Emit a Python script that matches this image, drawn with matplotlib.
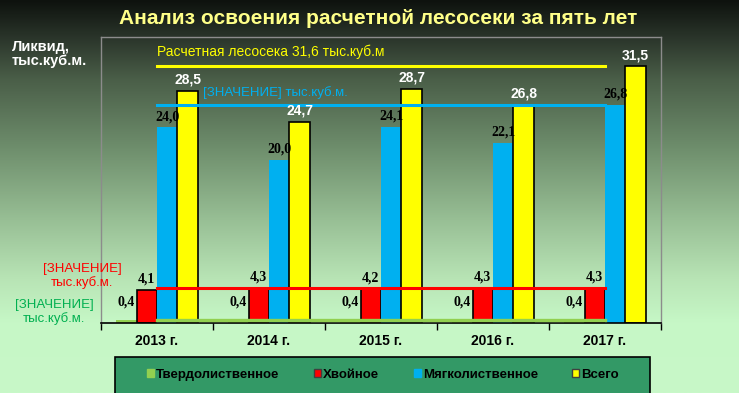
import matplotlib
matplotlib.use('Agg')
import matplotlib.pyplot as plt
import numpy as np
from matplotlib.patches import Patch, Rectangle
from matplotlib.colors import LinearSegmentedColormap

years = ['2013 г.', '2014 г.', '2015 г.', '2016 г.', '2017 г.']
hardwood = [0.4, 0.4, 0.4, 0.4, 0.4]
conifer = [4.1, 4.3, 4.2, 4.3, 4.3]
softwood = [24.0, 20.0, 24.1, 22.1, 26.8]
total = [28.5, 24.7, 28.7, 26.8, 31.5]

# horizontal reference lines
line_total = [31.6, 31.6, 31.6, 31.6, 31.6]
line_soft = [26.8, 26.8, 26.8, 26.8, 26.8]
line_conifer = [4.3, 4.3, 4.3, 4.3, 4.3]
line_hard = [0.4, 0.4, 0.4, 0.4, 0.4]

names = ['Твердолиственное', 'Хвойное', 'Мягколиственное', 'Всего']
colors = ['#92d050', '#ff0000', '#00b0f0', '#ffff00']

W, H = 739, 393
fig = plt.figure(figsize=(W / 100, H / 100), dpi=100)


def px(x, y):
    # pixel coords (from top-left) -> figure fraction
    return x / W, 1 - y / H


# gradient background
bg = fig.add_axes([0, 0, 1, 1], zorder=-10)
cmap = LinearSegmentedColormap.from_list('bg', [
    (0.0, '#0e120e'), (0.1, '#2c372c'), (0.2, '#4a5e48'), (0.38, '#6f8f6d'),
    (0.56, '#98bf95'), (0.71, '#b8e4b5'), (0.82, '#c6f7c6'), (1.0, '#c8f8c8')])
bg.imshow(np.linspace(0, 1, 256).reshape(-1, 1), aspect='auto', cmap=cmap,
          extent=[0, 1, 0, 1])
bg.axis('off')

ax = fig.add_axes([101 / W, 1 - 323 / H, 560 / W, 286 / H])
ax.patch.set_alpha(0)

x = np.arange(len(years))
w = 0.182
series = [hardwood, conifer, softwood, total]
edges = ['none', 'black', 'none', 'black']
for i, (vals, c) in enumerate(zip(series, colors)):
    pos = x + (i - 1.5) * w
    ec = edges[i]
    bars = ax.bar(pos, vals, w, color=c, edgecolor=ec, linewidth=1.2 if ec != 'none' else 0, zorder=2)
    lab_col = 'white' if i == 3 else 'black'
    fam = ['Liberation Sans'] if i == 3 else ['Liberation Serif']
    for p, v in zip(pos, vals):
        ax.annotate(f'{v:.1f}'.replace('.', ','), (p, v), xytext=(0, 3 if i > 0 else 8),
                    textcoords='offset points', ha='center', va='bottom',
                    fontsize=10, fontweight='bold', color=lab_col, family=fam, zorder=5)

ax.plot(x, line_total, color='#ffff00', lw=2.2, zorder=4)
ax.plot(x, line_soft, color='#00b0f0', lw=2.2, zorder=4)
ax.plot(x, line_conifer, color='#ff0000', lw=2.2, zorder=4)
ax.plot(x, line_hard, color='#92d050', lw=2.4, zorder=4)

ax.set_xlim(-0.5, 4.5)
ax.set_ylim(0, 35.1)
ax.set_yticks([])
ax.set_xticks(np.arange(-0.5, 5, 1))
ax.set_xticklabels([])
ax.tick_params(axis='x', which='major', direction='out', length=5, color='black', width=1)
ax.set_xticks(x, minor=True)
ax.set_xticklabels(years, minor=True, fontsize=10, fontweight='bold',
                   family=['Liberation Sans Narrow', 'Liberation Sans'])
ax.tick_params(axis='x', which='minor', length=0, pad=8)
for s in ['left', 'top', 'right']:
    ax.spines[s].set_color('#8c8c8c')
    ax.spines[s].set_linewidth(1)
ax.spines['bottom'].set_color('black')
ax.spines['bottom'].set_linewidth(1.2)

# title and axis caption
fig.text(*px(378, 18), 'Анализ освоения расчетной лесосеки за пять лет', ha='center', va='center',
         fontsize=15, fontweight='bold', color='#ffff88', family=['Liberation Sans'])
fig.text(*px(12, 54), 'Ликвид,\nтыс.куб.м.', ha='left', va='center', fontsize=10.5,
         fontweight='bold', color='white', family=['Liberation Sans'], linespacing=1.05)

# line captions
fig.text(*px(157, 52), 'Расчетная лесосека 31,6 тыс.куб.м', ha='left', va='center',
         fontsize=10, color='#ffff00', family=['Liberation Sans'])
fig.text(*px(203, 93), '[ЗНАЧЕНИЕ] тыс.куб.м.', ha='left', va='center',
         fontsize=9.5, color='#00b0f0', family=['Liberation Sans'])
fig.text(*px(82, 276), '[ЗНАЧЕНИЕ]\nтыс.куб.м.', ha='center', va='center', multialignment='center',
         fontsize=9.5, color='#ff0000', family=['Liberation Sans'], linespacing=1.2)
fig.text(*px(54, 312), '[ЗНАЧЕНИЕ]\nтыс.куб.м.', ha='center', va='center', multialignment='center',
         fontsize=9.5, color='#00b050', family=['Liberation Sans'], linespacing=1.2)

# legend box
x0, y0 = px(115, 393)
fig.patches.append(Rectangle((x0, y0 - 0.01), (650 - 115) / W, (393 - 357) / H + 0.01,
                             transform=fig.transFigure, facecolor='#339966',
                             edgecolor='black', linewidth=1.2, zorder=1))
handles = [Patch(facecolor=c, edgecolor=('#404040' if c in ('#ff0000', '#ffff00') else c))
           for c in colors]
leg = fig.legend(handles, names, ncol=4, loc='center', bbox_to_anchor=px(383, 375),
                 frameon=False, handlelength=0.55, handleheight=0.55, handletextpad=0.15,
                 columnspacing=2.6, prop={'family': 'Liberation Sans', 'weight': 'bold', 'size': 9.5})
leg.set_zorder(3)

fig.savefig('out.png', dpi=100)
